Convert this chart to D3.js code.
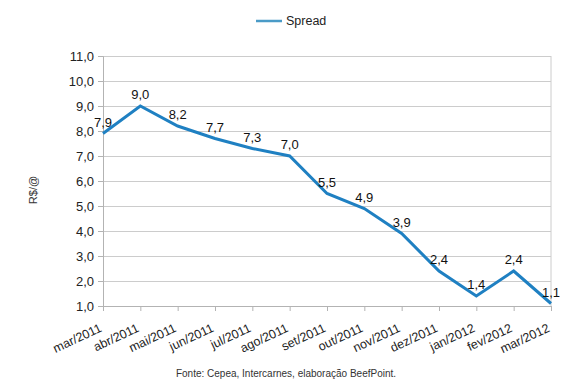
<!DOCTYPE html>
<html>
<head>
<meta charset="utf-8">
<script src="https://cdn.jsdelivr.net/npm/d3@7"></script>
<style>
  body { margin: 0; background: #fff; }
  text { font-family: "Liberation Sans", Arial, sans-serif; }
</style>
</head>
<body>
<svg id="chart" width="570" height="388"></svg>
<script>
let months = ["mar/2011", "abr/2011", "mai/2011", "jun/2011", "jul/2011", "ago/2011", "set/2011",
              "out/2011", "nov/2011", "dez/2011", "jan/2012", "fev/2012", "mar/2012"];
let spread = [7.9, 9.0, 8.2, 7.7, 7.3, 7.0, 5.5, 4.9, 3.9, 2.4, 1.4, 2.4, 1.1];
let yTicks = [1, 2, 3, 4, 5, 6, 7, 8, 9, 10, 11];

let svg = d3.select("#chart"),
    margin = { top: 56, right: 19, bottom: 82, left: 103 },
    chartWidth = +svg.attr("width") - margin.left - margin.right,
    chartHeight = +svg.attr("height") - margin.top - margin.bottom;

let lineColor = "#1f80c2";
let fmt = v => d3.format(".1f")(v).replace(".", ",");

let g = svg.append("g").attr("transform", `translate(${margin.left},${margin.top})`);

let xScale = d3.scalePoint().domain(months).range([0, chartWidth]);
let yScale = d3.scaleLinear().domain([1, 11]).range([chartHeight, 0]);

// gridlines
g.append("g")
  .call(d3.axisLeft(yScale).tickValues(yTicks).tickSize(-chartWidth).tickFormat(""))
  .call(a => a.select(".domain").remove())
  .selectAll("line").attr("stroke", "#cccccc");

// right border
g.append("line").attr("x1", chartWidth).attr("x2", chartWidth)
  .attr("y1", 0).attr("y2", chartHeight).attr("stroke", "#cccccc");

// y axis
let yAxis = g.append("g")
  .call(d3.axisLeft(yScale).tickValues(yTicks).tickSize(5).tickPadding(4).tickFormat(fmt));
yAxis.select(".domain").attr("stroke", "#b3b3b3");
yAxis.selectAll("line").attr("stroke", "#b3b3b3");
yAxis.selectAll("text").attr("font-size", 13).attr("fill", "#222");

// x axis
let xAxis = g.append("g").attr("transform", `translate(0,${chartHeight})`)
  .call(d3.axisBottom(xScale).tickSize(5).tickSizeOuter(0));
xAxis.select(".domain").attr("stroke", "#b3b3b3");
xAxis.selectAll("line").attr("stroke", "#b3b3b3");
xAxis.selectAll("text")
  .attr("font-size", 12.5).attr("fill", "#222")
  .attr("text-anchor", "end")
  .attr("dy", null).attr("y", 0)
  .attr("transform", "translate(-1,25) rotate(-25)");

// line
let line = d3.line().x((d, i) => xScale(months[i])).y(d => yScale(d));
g.append("path").datum(spread)
  .attr("d", line)
  .attr("fill", "none")
  .attr("stroke", lineColor)
  .attr("stroke-width", 3)
  .attr("stroke-linejoin", "miter");

// value labels
g.selectAll(".lbl").data(spread).enter().append("text")
  .attr("class", "lbl")
  .attr("x", (d, i) => xScale(months[i]))
  .attr("y", d => yScale(d) - 7)
  .attr("text-anchor", "middle")
  .attr("font-size", 13)
  .attr("fill", "#111")
  .text(fmt);

// y label
svg.append("text")
  .attr("transform", "translate(37,190) rotate(-90)")
  .attr("text-anchor", "middle")
  .attr("font-size", 11)
  .attr("fill", "#333")
  .text("R$/@");

// legend
svg.append("line").attr("x1", 256).attr("x2", 282).attr("y1", 21).attr("y2", 21)
  .attr("stroke", "#4a9bc7").attr("stroke-width", 2.5);
svg.append("text").attr("x", 286).attr("y", 25)
  .attr("font-size", 12.5).attr("fill", "#222").text("Spread");

// source
svg.append("text").attr("x", 286).attr("y", 377)
  .attr("text-anchor", "middle")
  .attr("font-size", 10).attr("fill", "#333")
  .text("Fonte: Cepea, Intercarnes, elaboração BeefPoint.");
</script>
</body>
</html>
